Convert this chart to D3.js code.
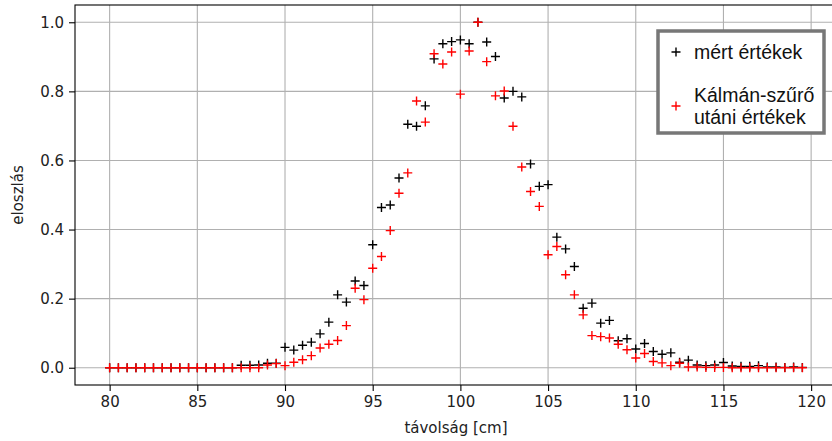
<!DOCTYPE html>
<html>
<head>
<meta charset="utf-8">
<script src="https://cdn.jsdelivr.net/npm/d3@7"></script>
<style>
  body { margin: 0; background: #fff; }
</style>
</head>
<body>
<div id="chart"></div>
<script>
// distances [cm]
var distances = [80, 80.5, 81, 81.5, 82, 82.5, 83, 83.5, 84, 84.5,
  85, 85.5, 86, 86.5, 87, 87.5, 88, 88.5, 89, 89.5,
  90, 90.5, 91, 91.5, 92, 92.5, 93, 93.5, 94, 94.5,
  95, 95.5, 96, 96.5, 97, 97.5, 98, 98.5, 99, 99.5,
  100, 100.5, 101, 101.5, 102, 102.5, 103, 103.5, 104, 104.5,
  105, 105.5, 106, 106.5, 107, 107.5, 108, 108.5, 109, 109.5,
  110, 110.5, 111, 111.5, 112, 112.5, 113, 113.5, 114, 114.5,
  115, 115.5, 116, 116.5, 117, 117.5, 118, 118.5, 119, 119.5];

// measured values
var measured = [0, 0, 0, 0, 0, 0, 0, 0, 0, 0,
  0, 0, 0, 0, 0, 0.007, 0.007, 0.008, 0.013, 0.013,
  0.059, 0.051, 0.065, 0.074, 0.098, 0.132, 0.211, 0.19, 0.251, 0.238,
  0.356, 0.464, 0.471, 0.549, 0.705, 0.699, 0.758, 0.894, 0.938, 0.944,
  0.949, 0.938, 1.0, 0.943, 0.901, 0.781, 0.80, 0.784, 0.59, 0.525,
  0.530, 0.378, 0.344, 0.293, 0.172, 0.187, 0.129, 0.137, 0.078, 0.084,
  0.054, 0.070, 0.047, 0.039, 0.043, 0.016, 0.022, 0.008, 0.006, 0.008,
  0.015, 0.005, 0.004, 0.004, 0.006, 0.002, 0.002, 0.001, 0.002, 0.001];

// values after the Kalman filter
var filtered = [0, 0, 0, 0, 0, 0, 0, 0, 0, 0,
  0, 0, 0, 0, 0, 0, 0, 0, 0.008, 0.012,
  0.006, 0.016, 0.023, 0.035, 0.057, 0.068, 0.079, 0.122, 0.23, 0.197,
  0.288, 0.322, 0.397, 0.505, 0.564, 0.772, 0.711, 0.909, 0.879, 0.914,
  0.792, 0.917, 1.0, 0.886, 0.787, 0.801, 0.699, 0.581, 0.51, 0.467,
  0.327, 0.351, 0.269, 0.211, 0.153, 0.093, 0.09, 0.086, 0.068, 0.052,
  0.028, 0.041, 0.018, 0.014, 0.006, 0.013, 0.002, 0.002, 0.001, 0.001,
  0.001, 0, 0, 0, 0, 0, 0, 0, 0, 0];

var xTicks = [80, 85, 90, 95, 100, 105, 110, 115, 120];
var yTicks = [0.0, 0.2, 0.4, 0.6, 0.8, 1.0];
var legendLabels = [["mért értékek"], ["Kálmán-szűrő", "utáni értékek"]];

var width = 832, height = 441;
var plotLeft = 75, plotTop = 5, plotRight = 837, plotBottom = 385;

var svg = d3.select("#chart")
  .append("svg")
  .attr("width", width)
  .attr("height", height)
  .style("display", "block");

// scales
var x = d3.scaleLinear()
  .domain([78.025, 121.475])
  .range([plotLeft, plotRight]);

var y = d3.scaleLinear()
  .domain([-0.05, 1.05])
  .range([plotBottom, plotTop]);

// grid
svg.append("g")
  .selectAll("line")
  .data(xTicks)
  .enter()
  .append("line")
    .attr("x1", d => x(d)).attr("x2", d => x(d))
    .attr("y1", plotTop).attr("y2", plotBottom)
    .attr("stroke", "#b0b0b0")
    .attr("stroke-width", 1.1);

svg.append("g")
  .selectAll("line")
  .data(yTicks)
  .enter()
  .append("line")
    .attr("x1", plotLeft).attr("x2", plotRight)
    .attr("y1", d => y(d)).attr("y2", d => y(d))
    .attr("stroke", "#b0b0b0")
    .attr("stroke-width", 1.1);

// axes
var xAxis = svg.append("g")
  .attr("transform", "translate(0," + plotBottom + ")")
  .call(d3.axisBottom(x).tickValues(xTicks).tickFormat(d3.format("d")).tickSizeOuter(0).tickSize(6).tickPadding(5));

var yAxis = svg.append("g")
  .attr("transform", "translate(" + plotLeft + ",0)")
  .call(d3.axisLeft(y).tickValues(yTicks).tickFormat(d3.format(".1f")).tickSizeOuter(0).tickSize(6).tickPadding(5));

[xAxis, yAxis].forEach(function(a) {
  a.select(".domain").remove();
  a.selectAll("line").attr("stroke", "#000").attr("stroke-width", 1.1);
  a.selectAll("text")
    .attr("fill", "#222")
    .style("font-family", "DejaVu Sans")
    .style("font-size", "15px");
});

// frame
svg.append("rect")
  .attr("x", plotLeft).attr("y", plotTop)
  .attr("width", plotRight - plotLeft).attr("height", plotBottom - plotTop)
  .attr("fill", "none")
  .attr("stroke", "#000")
  .attr("stroke-width", 1.1);

// axis labels
svg.append("text")
  .attr("x", (plotLeft + plotRight) / 2)
  .attr("y", 433)
  .attr("text-anchor", "middle")
  .attr("fill", "#222")
  .style("font-family", "DejaVu Sans")
  .style("font-size", "15px")
  .text("távolság [cm]");

svg.append("text")
  .attr("transform", "translate(23," + ((plotTop + plotBottom) / 2) + ") rotate(-90)")
  .attr("text-anchor", "middle")
  .attr("fill", "#222")
  .style("font-family", "DejaVu Sans")
  .style("font-size", "15px")
  .text("eloszlás");

// plus markers
var plus = "M-4.5,0H4.5M0,-4.5V4.5";

function drawSeries(values, color) {
  svg.append("g")
    .selectAll("path")
    .data(values)
    .enter()
    .append("path")
      .attr("d", plus)
      .attr("transform", (d, i) => "translate(" + x(distances[i]) + "," + y(d) + ")")
      .attr("stroke", color)
      .attr("stroke-width", 1.4)
      .attr("fill", "none");
}

drawSeries(measured, "#000");
drawSeries(filtered, "#ff0000");

// legend
var legend = svg.append("g");
legend.append("rect")
  .attr("x", 658).attr("y", 31)
  .attr("width", 166).attr("height", 102)
  .attr("fill", "#fff")
  .attr("stroke", "#777")
  .attr("stroke-width", 3.5);

var colors = ["#000", "#ff0000"];
var markerY = [52, 106];
var lineY = [[52], [95, 117]];

legendLabels.forEach(function(lines, i) {
  legend.append("path")
    .attr("d", plus)
    .attr("transform", "translate(676," + markerY[i] + ")")
    .attr("stroke", colors[i])
    .attr("stroke-width", 1.4);
  lines.forEach(function(t, j) {
    legend.append("text")
      .attr("x", 694)
      .attr("y", lineY[i][j])
      .attr("dy", "0.35em")
      .attr("fill", "#111")
      .style("font-family", "Liberation Sans")
      .style("font-size", "19.5px")
      .text(t);
  });
});
</script>
</body>
</html>
